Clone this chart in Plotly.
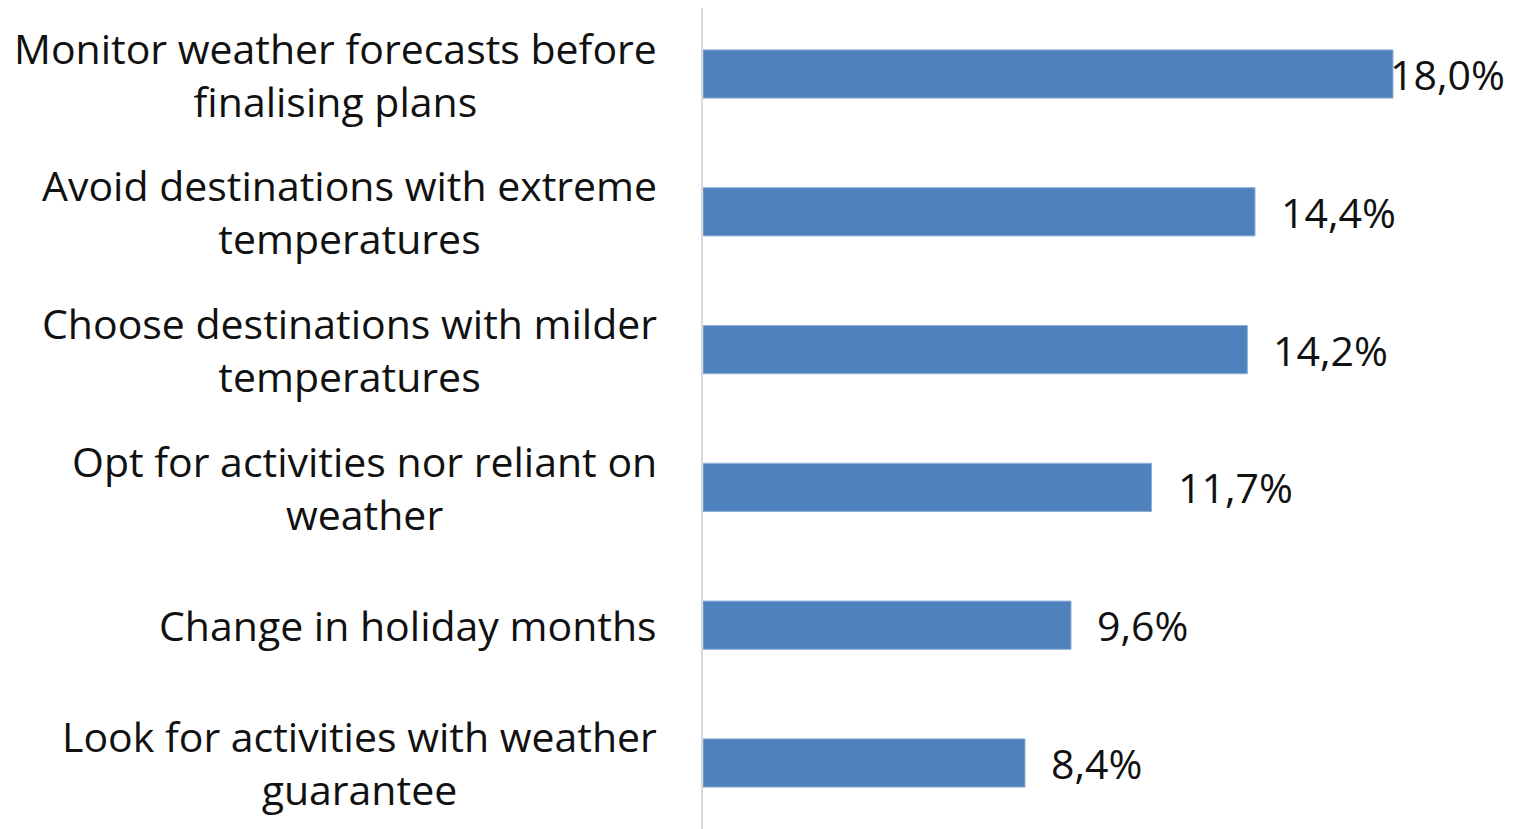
import plotly.graph_objects as go

categories = [
    "Monitor weather forecasts before<br>finalising plans",
    "Avoid destinations with extreme<br>temperatures",
    "Choose destinations with milder<br>temperatures",
    "Opt for activities nor reliant on<br>weather",
    "Change in holiday months",
    "Look for activities with weather<br>guarantee",
]
values = [18.0, 14.4, 14.2, 11.7, 9.6, 8.4]
value_labels = ["18,0%", "14,4%", "14,2%", "11,7%", "9,6%", "8,4%"]

FONT = "Open Sans"
FSIZE = 41
XMAX = 21.13

fig = go.Figure()
fig.add_trace(go.Bar(
    x=values,
    y=list(range(len(categories))),
    orientation="h",
    width=0.35,
    marker=dict(color="#4F81BD", line=dict(color="#8FB0D8", width=1)),
    hoverinfo="skip",
))

annotations = []
for i, c in enumerate(categories):
    annotations.append(dict(
        xref="paper", yref="y", x=0, y=i, text=c, showarrow=False,
        xanchor="right", yanchor="middle", align="center", xshift=-44,
        font=dict(family=FONT, size=FSIZE, color="#111111"),
    ))
for i, (v, t) in enumerate(zip(values, value_labels)):
    if v + 3.2 > XMAX:
        annotations.append(dict(
            xref="paper", yref="y", x=1, y=i, text=t, showarrow=False,
            xanchor="right", yanchor="middle", xshift=-6,
            font=dict(family=FONT, size=FSIZE, color="#111111"),
        ))
    else:
        annotations.append(dict(
            xref="x", yref="y", x=v, y=i, text=t, showarrow=False,
            xanchor="left", yanchor="middle", xshift=24,
            font=dict(family=FONT, size=FSIZE, color="#111111"),
        ))

fig.update_layout(
    width=1505, height=821,
    margin=dict(l=695, r=0, t=0, b=0),
    paper_bgcolor="white", plot_bgcolor="white",
    showlegend=False,
    annotations=annotations,
    xaxis=dict(range=[0, XMAX], showgrid=False, zeroline=False,
               showticklabels=False, showline=False, ticks=""),
    yaxis=dict(range=[5.479, -0.479], showgrid=False, zeroline=False,
               showticklabels=False, showline=True, linecolor="#D9D9D9",
               linewidth=2, ticks=""),
)
fig.write_html("out.html")
